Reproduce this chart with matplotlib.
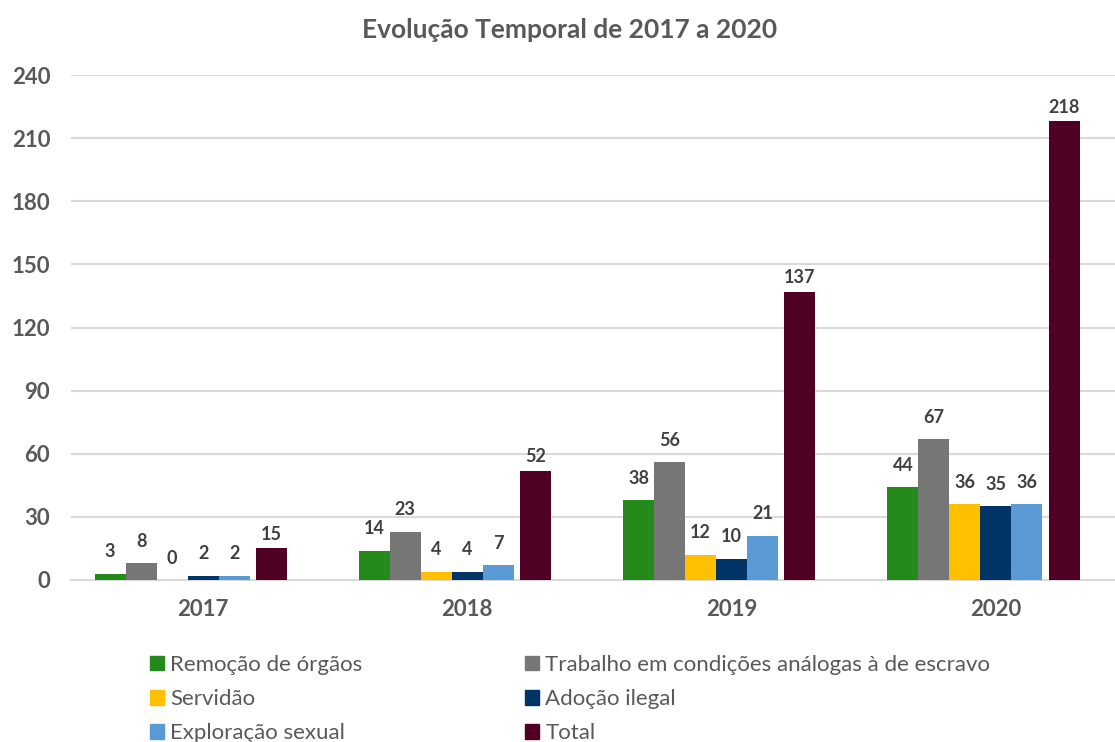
import numpy as np
import matplotlib
matplotlib.use('Agg')
from matplotlib import pyplot as plt
from matplotlib.patches import Patch

plt.rcParams['font.family'] = ['Lato', 'DejaVu Sans']

years = ['2017', '2018', '2019', '2020']
series_names = [
    'Remoção de órgãos',
    'Trabalho em condições análogas à de escravo',
    'Servidão',
    'Adoção ilegal',
    'Exploração sexual',
    'Total',
]
remocao = [3, 14, 38, 44]
trabalho = [8, 23, 56, 67]
servidao = [0, 4, 12, 36]
adocao = [2, 4, 10, 35]
exploracao = [2, 7, 21, 36]
total = [15, 52, 137, 218]
y_ticks = [0, 30, 60, 90, 120, 150, 180, 210, 240]

values = [remocao, trabalho, servidao, adocao, exploracao, total]
colors = ['#238A1B', '#767676', '#FFC000', '#003366', '#5B9BD5', '#500024']
offsets = [-0.352, -0.235, -0.1175, 0.0, 0.1175, 0.258]
width = 0.1175
label_pad = [22, 22, 22, 22, 22, 14]

fig = plt.figure(figsize=(11.15, 7.42), dpi=100)
ax = fig.add_axes([71 / 1115, 1 - 580 / 742, (1128 - 71) / 1115, 505 / 742])

x = np.arange(len(years))
for vals, col, off, name, pad in zip(values, colors, offsets, series_names, label_pad):
    bars = ax.bar(x + off, vals, width, color=col, label=name, zorder=3)
    for b, v in zip(bars, vals):
        ax.annotate(str(v), (b.get_x() + b.get_width() / 2, v),
                    xytext=(0, pad / 1.389), textcoords='offset points',
                    ha='center', va='center', fontsize=13,
                    fontweight='bold', color='#404040')

ax.set_xlim(-0.5, 3.5)
ax.set_ylim(0, 240)
ax.set_yticks(y_ticks)
ax.set_xticks(x)
ax.set_xticklabels(years)
ax.tick_params(axis='both', length=0, labelsize=16, labelcolor='#595959')
ax.tick_params(axis='y', pad=15)
ax.tick_params(axis='x', pad=14)
for lab in ax.get_xticklabels() + ax.get_yticklabels():
    lab.set_fontweight('bold')
ax.grid(axis='y', color='#D9D9D9', linewidth=1.5, zorder=0)
for s in ['top', 'right', 'left']:
    ax.spines[s].set_visible(False)
ax.spines['bottom'].set_color('#D9D9D9')
ax.spines['bottom'].set_linewidth(1.5)

fig.text(569.5 / 1115, 1 - 30 / 742, 'Evolução Temporal de 2017 a 2020',
         ha='center', va='center', fontsize=19, fontweight='bold', color='#595959')

handles = [Patch(color=c) for c in colors]
col1 = [0, 2, 4]
col2 = [1, 3, 5]
for idx, xpos in [(col1, 150), (col2, 525)]:
    leg = fig.legend([handles[i] for i in idx], [series_names[i] for i in idx],
                     loc='upper left', bbox_to_anchor=(xpos / 1115, 1 - 655 / 742),
                     frameon=False, fontsize=16, handlelength=0.62, handleheight=0.62,
                     handletextpad=0.3, labelspacing=0.64, borderpad=0, borderaxespad=0)
    for t in leg.get_texts():
        t.set_color('#595959')

fig.savefig('out.png', dpi=100)
